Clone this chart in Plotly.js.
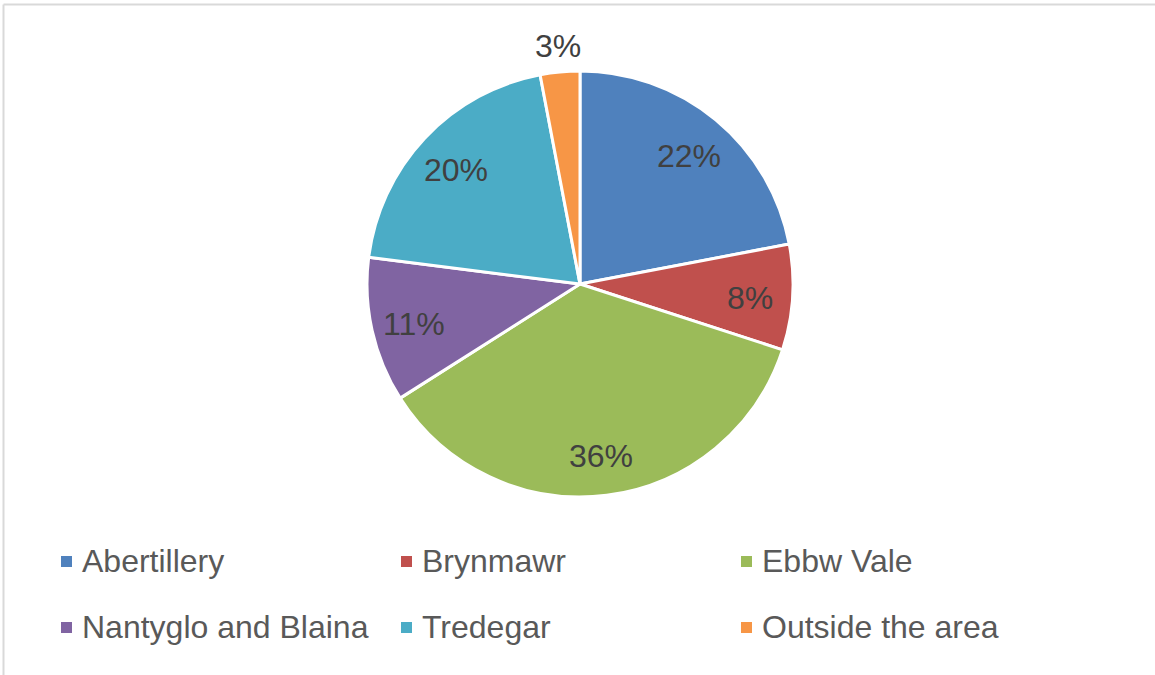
<!DOCTYPE html>
<html>
<head>
<meta charset="utf-8">
<script src="https://cdn.plot.ly/plotly-3.0.1.min.js"></script>
<style>
  html, body { margin: 0; padding: 0; background: #fff; }
  #plot { width: 1155px; height: 675px; }
</style>
</head>
<body>
<div id="plot"></div>
<script>
// share of respondents by area (percent)
const labels = ['Abertillery', 'Brynmawr', 'Ebbw Vale', 'Nantyglo and Blaina', 'Tredegar', 'Outside the area'];
const shares = [22, 8, 36, 11, 20, 3];
const colors = ['#4F81BD', '#C0504D', '#9BBB59', '#8064A2', '#4BACC6', '#F79646'];
const labelOutside = [false, false, false, false, false, true];

const W = 1155, H = 675;
const FONT = 'Liberation Sans, Arial, sans-serif';

// pie placement (pixels), converted to a domain
const cx = 580, cy = 284, R = 213;
const dom = {
    x: [(cx - R) / W, (cx + R) / W],
    y: [1 - (cy + R) / H, 1 - (cy - R) / H]
};

let trace = {
    type: 'pie',
    labels: labels,
    values: shares,
    sort: false,
    direction: 'clockwise',
    rotation: 0,
    marker: { colors: colors, line: { color: '#ffffff', width: 3 } },
    textinfo: 'none',
    hoverinfo: 'label+percent',
    showlegend: false,
    domain: dom
};

let shapes = [
    // light frame on top and left edges
    { type: 'line', xref: 'paper', yref: 'paper', x0: 3.5 / W, x1: 1, y0: 1 - 4.5 / H, y1: 1 - 4.5 / H, line: { color: '#d9d9d9', width: 2 } },
    { type: 'line', xref: 'paper', yref: 'paper', x0: 3.5 / W, x1: 3.5 / W, y0: 0, y1: 1 - 4.5 / H, line: { color: '#d9d9d9', width: 2 } }
];
let annotations = [];

// percent labels, Excel-style "best fit": placed on each slice's mid angle
let total = shares.reduce((a, b) => a + b, 0);
let cum = 0;
shares.forEach((v, i) => {
    let mid = (cum + v / 2) / total * 2 * Math.PI;
    cum += v;
    let rr = labelOutside[i] ? R * 1.12 : R * 0.8;
    let px = cx + rr * Math.sin(mid);
    let py = cy - rr * Math.cos(mid) + (labelOutside[i] ? 0 : 3);
    annotations.push({
        xref: 'paper', yref: 'paper',
        x: px / W, y: 1 - py / H,
        xanchor: 'center', yanchor: 'middle',
        text: Math.round(v / total * 100) + '%', showarrow: false,
        font: { family: FONT, size: 32, color: '#404040' }
    });
});

// legend built by hand: 3 columns x 2 rows
const colX = [61, 401, 741];
const rowY = [561, 627];
labels.forEach((name, i) => {
    let lx = colX[i % 3], ly = rowY[Math.floor(i / 3)];
    shapes.push({
        type: 'rect', xref: 'paper', yref: 'paper',
        x0: lx / W, x1: (lx + 11) / W,
        y0: 1 - (ly + 6) / H, y1: 1 - (ly - 5) / H,
        fillcolor: colors[i], line: { width: 0 }
    });
    annotations.push({
        xref: 'paper', yref: 'paper',
        x: (lx + 19) / W, y: 1 - ly / H,
        xanchor: 'left', yanchor: 'middle',
        text: name, showarrow: false,
        font: { family: FONT, size: 32, color: '#595959' }
    });
});

let layout = {
    width: W,
    height: H,
    margin: { l: 0, r: 0, t: 0, b: 0 },
    paper_bgcolor: '#ffffff',
    showlegend: false,
    shapes: shapes,
    annotations: annotations
};

Plotly.newPlot('plot', [trace], layout, { displayModeBar: false, staticPlot: true });
</script>
</body>
</html>
